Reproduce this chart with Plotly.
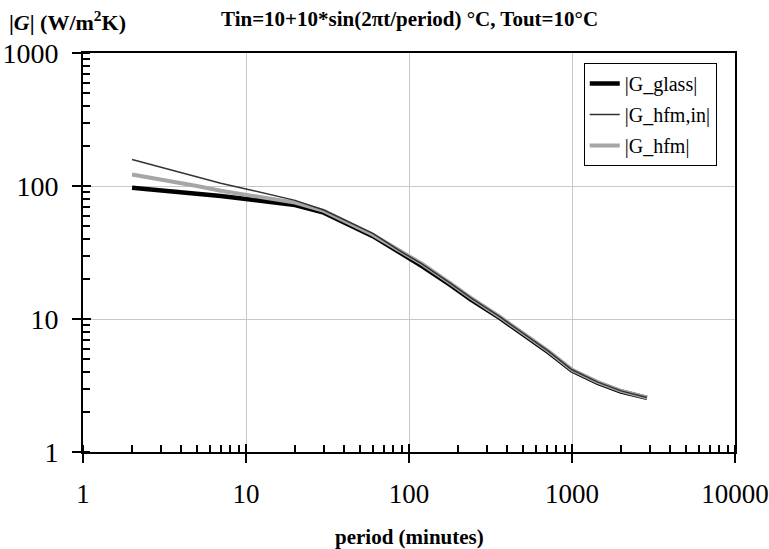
import plotly.graph_objects as go

period = [2, 3, 5, 7, 10, 15, 20, 30, 45, 60, 90, 120, 180, 240, 360, 480, 720, 1000, 1440, 2000, 2880]
g_glass = [97, 93, 88, 84, 80, 76, 72, 63, 50, 42, 31, 25, 18, 14, 10.2, 8.0, 5.6, 4.1, 3.3, 2.85, 2.55]
g_hfm_in = [158, 138, 117, 105, 95, 85, 78, 66, 52, 44, 32, 26, 18.5, 14.4, 10.4, 8.1, 5.7, 4.15, 3.35, 2.88, 2.57]
g_hfm = [122, 112, 100, 92, 86, 80, 75, 65, 51, 43, 32, 26, 18.5, 14.4, 10.4, 8.1, 5.7, 4.15, 3.35, 2.88, 2.57]

x_ticks = [1, 10, 100, 1000, 10000]
y_ticks = [1, 10, 100, 1000]

FONT = "Liberation Serif, Times New Roman, serif"

fig = go.Figure()
fig.add_trace(go.Scatter(x=period, y=g_glass, mode="lines", name="|G_glass|",
                         line=dict(color="black", width=4.5), legendrank=1, legendgroup="a"))
fig.add_trace(go.Scatter(x=period, y=g_hfm, mode="lines", name="|G_hfm|",
                         line=dict(color="#a6a6a6", width=4), legendrank=3, legendgroup="c"))
fig.add_trace(go.Scatter(x=period, y=g_hfm_in, mode="lines", name="|G_hfm,in|",
                         line=dict(color="#333333", width=1.5), legendrank=2, legendgroup="b"))
# invisible trace on overlay axes so that their inward major ticks are drawn
fig.add_trace(go.Scatter(x=[period[0]], y=[g_glass[0]], xaxis="x2", yaxis="y2", mode="lines",
                         showlegend=False, hoverinfo="skip", line=dict(width=0)))

axis_common = dict(type="log", showline=True, linecolor="black", linewidth=2, mirror=True,
                   automargin=False, ticklabeloverflow="allow",
                   ticks="outside", ticklen=9, tickwidth=2, tickcolor="black",
                   showgrid=True, gridcolor="#c8c8c8", gridwidth=1, zeroline=False,
                   minor=dict(ticks="inside", ticklen=7, tickwidth=1.5, tickcolor="black",
                              dtick="D1", showgrid=False))

overlay_common = dict(type="log", showline=False, showgrid=False, zeroline=False,
                      showticklabels=False, automargin=False,
                      ticks="inside", ticklen=8, tickwidth=2, tickcolor="black")

fig.update_layout(
    width=769, height=549,
    margin=dict(l=83, r=34, t=53, b=97, autoexpand=False),
    plot_bgcolor="white", paper_bgcolor="white",
    showlegend=True,
    legend=dict(x=0.972, y=0.975, xanchor="right", yanchor="top",
                bgcolor="white", bordercolor="black", borderwidth=1,
                font=dict(family=FONT, size=20, color="black"),
                traceorder="grouped", tracegroupgap=2),
    xaxis=dict(range=[0, 4], tickvals=x_ticks, ticktext=[str(v) for v in x_ticks],
               ticklabelstandoff=8, tickfont=dict(family=FONT, size=27, color="black"),
               **axis_common),
    yaxis=dict(range=[0, 3], tickvals=y_ticks, ticktext=[str(v) for v in y_ticks],
               ticklabelstandoff=8, tickfont=dict(family=FONT, size=28, color="black"),
               **axis_common),
    xaxis2=dict(overlaying="x", matches="x", anchor="y2", tickvals=x_ticks, **overlay_common),
    yaxis2=dict(overlaying="y", matches="y", anchor="x2", tickvals=y_ticks, **overlay_common),
)

fig.add_annotation(text="<b>Tin=10+10*sin(2\u03c0t/period) \u00b0C, Tout=10\u00b0C</b>",
                   xref="paper", yref="paper", x=0.5, y=1.0, yshift=34, xanchor="center",
                   yanchor="middle", showarrow=False,
                   font=dict(family=FONT, size=21, color="black"))
fig.add_annotation(text="<b>|<i>G</i>| (W/m<sup>2</sup>K)</b>",
                   xref="paper", yref="paper", x=-0.117, y=1.0, yshift=32, xanchor="left",
                   yanchor="middle", showarrow=False,
                   font=dict(family=FONT, size=22, color="black"))
fig.add_annotation(text="<b>period (minutes)</b>",
                   xref="paper", yref="paper", x=0.5, y=0, yshift=-85, xanchor="center",
                   yanchor="middle", showarrow=False,
                   font=dict(family=FONT, size=21, color="black"))

fig.write_html("out.html", config={"displayModeBar": False},
               post_script="document.body.style.margin='0';")
